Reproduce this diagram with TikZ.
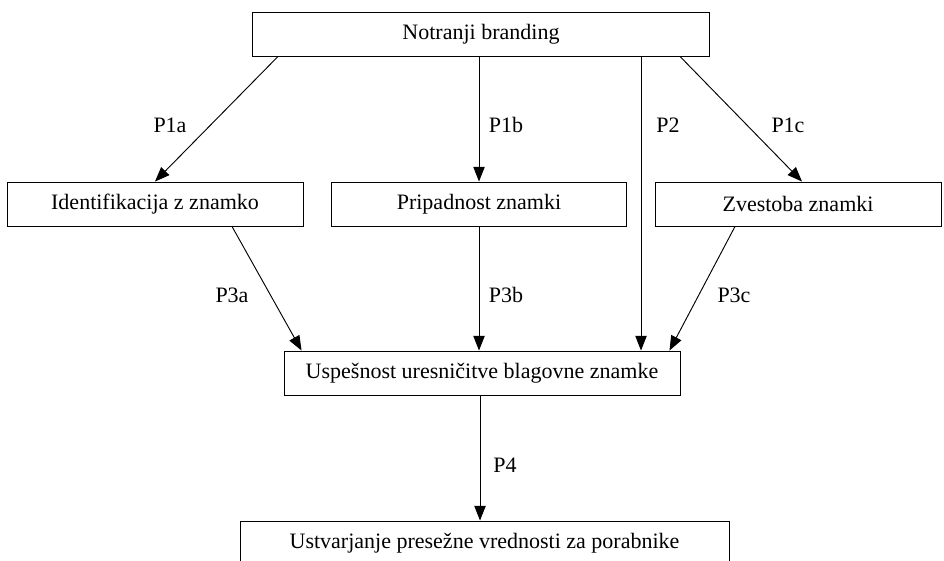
\documentclass[tikz,border=0pt]{standalone}
\usepackage{fontspec}
\setmainfont{Liberation Serif}
\usetikzlibrary{arrows.meta,calc}
\tikzset{
    >={Triangle[length=11pt,width=8.5pt]},
    every picture/.style={x=0.75pt,y=-0.75pt,line width=0.7pt},
    box/.style={draw,rectangle,minimum height=33pt,inner sep=0pt,font=\fontsize{16.5}{20}\selectfont},
    lbl/.style={font=\fontsize{16.5}{20}\selectfont}
}

\begin{document}
\begin{tikzpicture}
  \useasboundingbox (0,0) rectangle (944,560);

  \node[box,minimum width=342.75pt] (notr)  at (481,34)    {Notranji branding};
  \node[box,minimum width=222pt]    (id)    at (155,204)   {Identifikacija z znamko};
  \node[box,minimum width=221.25pt] (prip)  at (479,204)   {Pripadnost znamki};
  \node[box,minimum width=214.5pt]  (zvest) at (798,204)   {Zvestoba znamki};
  \node[box,minimum width=297pt]    (usp)   at (482,373)   {Uspešnost uresničitve blagovne znamke};
  \node[box,minimum width=366.75pt] (ustv)  at (484.5,543) {Ustvarjanje presežne vrednosti za porabnike};

  \draw[->] ($(notr.south)+(-203,0)$) -- (id.north);
  \draw[->] (prip.north |- notr.south) -- (prip.north);
  \draw[->] ($(notr.south)+(160,0)$) coordinate (p2) -- (p2 |- usp.north);
  \draw[->] ($(notr.south)+(199,0)$) -- ($(zvest.north)+(4,0)$);
  \draw[->] ($(id.south)+(77,0)$) -- ($(usp.north west)+(18,0)$);
  \draw[->] (prip.south) -- (prip.south |- usp.north);
  \draw[->] ($(zvest.south)+(-63,0)$) -- ($(usp.north east)+(-11,0)$);
  \draw[->] ($(usp.south)+(-2,0)$) coordinate (p4) -- (p4 |- ustv.north);

  \node[lbl] (lP1a) at (170,125) {P1a};
  \node[lbl] (lP1b) at (506,125) {P1b};
  \node[lbl] (lP2)  at (668,125) {P2};
  \node[lbl] (lP1c) at (788,125) {P1c};
  \node[lbl] (lP3a) at (232,295) {P3a};
  \node[lbl] (lP3b) at (506,295) {P3b};
  \node[lbl] (lP3c) at (734,295) {P3c};
  \node[lbl] (lP4)  at (505,465) {P4};
\end{tikzpicture}
\end{document}
